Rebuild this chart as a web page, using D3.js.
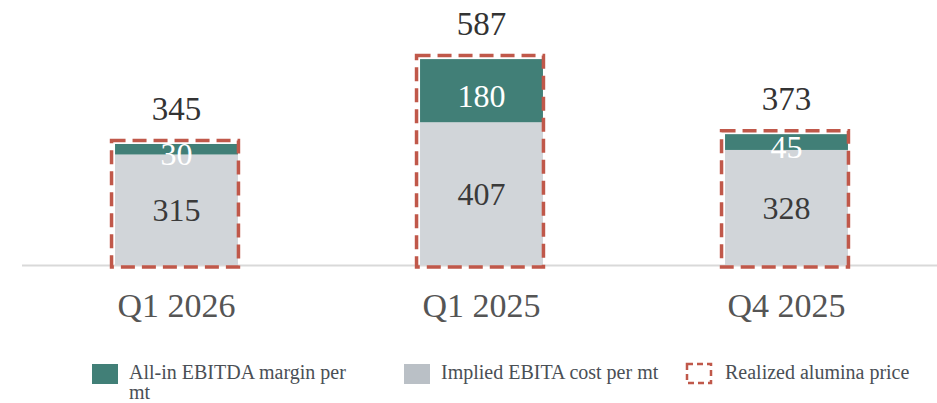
<!DOCTYPE html>
<html><head><meta charset="utf-8">
<script src="https://cdn.jsdelivr.net/npm/d3@7"></script>
<style>body{margin:0;background:#fff}svg{display:block}text{font-family:"Liberation Serif","DejaVu Serif",serif}</style>
</head><body><svg id="c" width="937" height="403"></svg>
<script>
const categories = ["Q1 2026", "Q1 2025", "Q4 2025"];
const costValues = [315, 407, 328];
const marginValues = [30, 180, 45];
const priceValues = [345, 587, 373];
const legendLabels = ["All-in EBITDA margin per mt", "Implied EBITA cost per mt", "Realized alumina price"];

const colors = {margin: "#417F77", cost: "#D1D5D9", costLegend: "#BAC0C6", price: "#C0584A"};
const svg = d3.select("#c");
const base = 265;
const x = d3.scaleBand().domain(categories).range([24, 939]).paddingInner(0.597).paddingOuter(0.2985);
const y = d3.scaleLinear().domain([0, 650]).range([base, 37]);

// axis line
svg.append("line").attr("x1", 22).attr("x2", 937).attr("y1", base + 0.5).attr("y2", base + 0.5)
  .attr("stroke", "#d9d9d9").attr("stroke-width", 2);

const data = categories.map((c, i) => ({c, cost: costValues[i], margin: marginValues[i], price: priceValues[i]}));
const g = svg.append("g");
data.forEach(d => {
  const bx = x(d.c), bw = x.bandwidth();
  g.append("rect").attr("x", bx).attr("width", bw).attr("y", y(d.cost)).attr("height", base - y(d.cost)).attr("fill", colors.cost);
  g.append("rect").attr("x", bx).attr("width", bw).attr("y", y(d.cost + d.margin)).attr("height", y(d.cost) - y(d.cost + d.margin)).attr("fill", colors.margin);
  // dashed price box
  g.append("rect").attr("x", bx - 3.5).attr("width", bw + 4).attr("y", y(d.price) - 3.5)
    .attr("height", base + 2 - (y(d.price) - 3.5))
    .attr("fill", "none").attr("stroke", colors.price).attr("stroke-width", 3.5).attr("stroke-dasharray", "14,7");
  const cx = bx + bw / 2;
  g.append("text").attr("x", cx).attr("y", (y(d.cost) + base) / 2).attr("dy", "0.35em").attr("text-anchor", "middle")
    .attr("font-size", 32).attr("fill", "#3a3a3a").text(d.cost);
  g.append("text").attr("x", cx).attr("y", (y(d.cost) + y(d.cost + d.margin)) / 2 + 5).attr("dy", "0.35em").attr("text-anchor", "middle")
    .attr("font-size", 32).attr("fill", "#ffffff").text(d.margin);
  g.append("text").attr("x", cx).attr("y", y(d.price) - 24).attr("text-anchor", "middle")
    .attr("font-size", 33).attr("fill", "#333").text(d.price);
  g.append("text").attr("x", cx).attr("y", 317).attr("text-anchor", "middle")
    .attr("font-size", 34).attr("fill", "#555").text(d.c);
});

// legend
const lg = svg.append("g").attr("font-size", 20).attr("fill", "#4a4f55");
lg.append("rect").attr("x", 92).attr("y", 364).attr("width", 26).attr("height", 20).attr("fill", colors.margin);
const t0 = lg.append("text").attr("x", 129).attr("y", 379);
t0.append("tspan").attr("x", 129).text("All-in EBITDA margin per");
t0.append("tspan").attr("x", 129).attr("dy", 20).text("mt");
lg.append("rect").attr("x", 404).attr("y", 364).attr("width", 26).attr("height", 20).attr("fill", colors.costLegend);
lg.append("text").attr("x", 441).attr("y", 379).text(legendLabels[1]);
lg.append("rect").attr("x", 687).attr("y", 364).attr("width", 24).attr("height", 19).attr("fill", "none")
  .attr("stroke", colors.price).attr("stroke-width", 2.5).attr("stroke-dasharray", "6,4");
lg.append("text").attr("x", 725).attr("y", 379).text(legendLabels[2]);
</script></body></html>
